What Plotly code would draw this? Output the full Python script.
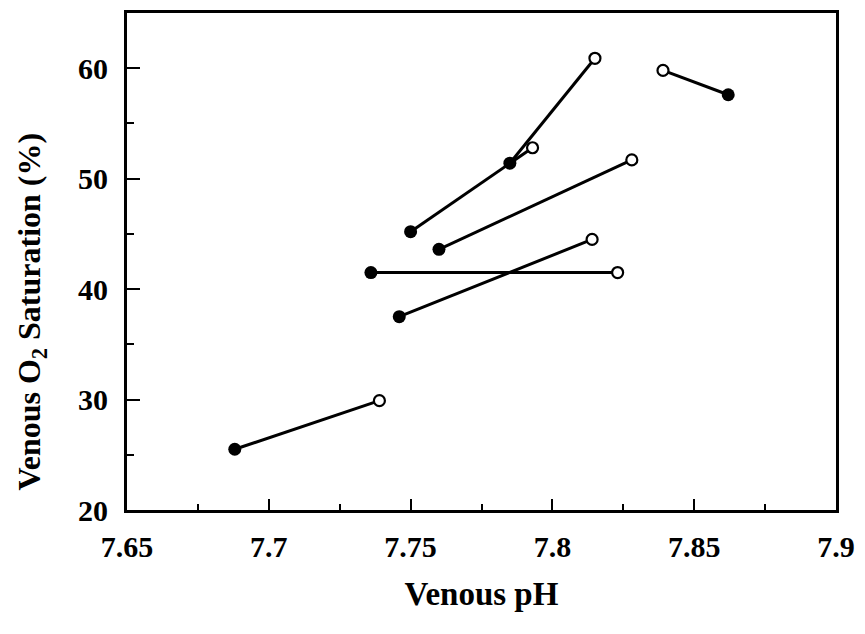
import plotly.graph_objects as go

# Paired venous measurements: filled = baseline, open = follow-up
ph_base = [7.688, 7.736, 7.746, 7.750, 7.760, 7.785, 7.862]
sat_base = [25.5, 41.5, 37.5, 45.2, 43.6, 51.4, 57.6]
ph_follow = [7.739, 7.823, 7.814, 7.793, 7.828, 7.815, 7.839]
sat_follow = [29.9, 41.5, 44.5, 52.8, 51.7, 60.9, 59.8]

x_ticks = [7.65, 7.70, 7.75, 7.80, 7.85, 7.90]
x_ticktext = ["7.65", "7.7", "7.75", "7.8", "7.85", "7.9"]
y_ticks = [20, 30, 40, 50, 60]

FONT = "Liberation Serif"
fig = go.Figure()

# connecting segments
for xb, yb, xf, yf in zip(ph_base, sat_base, ph_follow, sat_follow):
    fig.add_trace(go.Scatter(
        x=[xb, xf], y=[yb, yf], mode="lines",
        line=dict(color="black", width=3),
        showlegend=False, hoverinfo="skip",
    ))

# baseline points (filled)
fig.add_trace(go.Scatter(
    x=ph_base, y=sat_base, mode="markers",
    marker=dict(size=13, color="black", opacity=1,
                line=dict(color="black", width=0)),
    showlegend=False,
))
# follow-up points (open)
fig.add_trace(go.Scatter(
    x=ph_follow, y=sat_follow, mode="markers",
    marker=dict(size=11, color="white", opacity=1,
                line=dict(color="black", width=2.2)),
    showlegend=False,
))

fig.update_layout(
    width=865, height=634,
    margin=dict(l=127, r=23, t=10, b=124),
    plot_bgcolor="white", paper_bgcolor="white",
    font=dict(family=FONT, color="black", size=30),
    annotations=[dict(
        text="<b>Venous O<sub>2</sub> Saturation (%)</b>",
        textangle=-90, xref="paper", yref="paper",
        x=-0.135, y=0.40, xanchor="center", yanchor="middle",
        showarrow=False, font=dict(family=FONT, size=32, color="black"),
    )],
)
fig.update_xaxes(
    range=[7.65, 7.90], tickvals=x_ticks, ticktext=x_ticktext,
    ticks="inside", ticklen=11, tickwidth=2, tickcolor="black",
    minor=dict(ticks="inside", ticklen=6, tickwidth=1.5, dtick=0.025,
               tick0=7.65, tickcolor="black"),
    showline=True, linewidth=3, linecolor="black", mirror=True,
    showgrid=False, zeroline=False, ticklabelstandoff=8,
    tickfont=dict(family=FONT, size=30, color="black", weight="bold"),
    title=dict(text="<b>Venous pH</b>", font=dict(family=FONT, size=33),
               standoff=20),
)
fig.update_yaxes(
    range=[20, 65], tickvals=y_ticks,
    ticks="inside", ticklen=13, tickwidth=2, tickcolor="black",
    minor=dict(ticks="inside", ticklen=7, tickwidth=1.5, dtick=5,
               tick0=20, tickcolor="black"),
    showline=True, linewidth=3, linecolor="black", mirror=True,
    showgrid=False, zeroline=False, ticklabelstandoff=10,
    tickfont=dict(family=FONT, size=30, color="black", weight="bold"),
)

fig.write_html("out.html")
